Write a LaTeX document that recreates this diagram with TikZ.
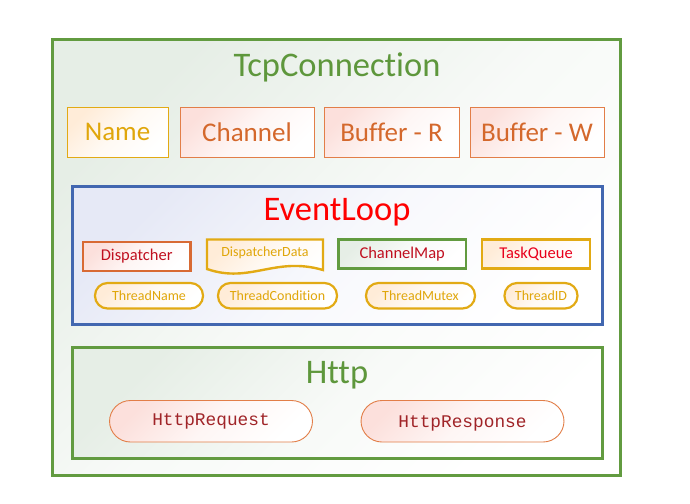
\documentclass[tikz,border=0pt]{standalone}
\usepackage{fontspec}
\setmainfont{Carlito}[Ligatures=NoCommon]
\newfontfamily\monofnt{Liberation Mono}
\definecolor{gOut}{RGB}{98,155,64}
\definecolor{gTitle}{RGB}{94,151,60}
\definecolor{gFill}{RGB}{230,238,230}
\definecolor{bLine}{RGB}{66,103,176}
\definecolor{bFill}{RGB}{230,233,246}
\definecolor{yLine}{RGB}{226,170,20}
\definecolor{yText}{RGB}{224,166,10}
\definecolor{yFill}{RGB}{255,236,216}
\definecolor{oLine}{RGB}{226,126,72}
\definecolor{oText}{RGB}{212,104,44}
\definecolor{pFill}{RGB}{252,224,220}
\definecolor{dLine}{RGB}{216,106,52}
\definecolor{dRed}{RGB}{192,16,32}
\definecolor{tRed}{RGB}{232,0,28}
\definecolor{hRed}{RGB}{160,36,40}
\begin{document}
\begin{tikzpicture}[x=1pt,y=-1pt,
  gfill/.style={top color=#1, bottom color=white, middle color=white!70!#1, shading angle=45},
  frame/.style={line width=3pt},
  topbox/.style={line width=0.9pt, draw=oLine},
  toptext/.style={font=\fontsize{27}{30}\selectfont, text=oText},
  midbox/.style={line width=2.4pt},
  midtext/.style={font=\fontsize{16.5}{19}\selectfont},
  pill/.style={draw=yLine, line width=2.2pt, rounded corners=12.5pt, gfill=yFill},
  pilltext/.style={font=\fontsize{14}{16}\selectfont, text=yText},
  hpill/.style={draw=oLine, line width=0.9pt, rounded corners=21pt, gfill=pFill},
  hpilltext/.style={font=\monofnt\fontsize{17.8}{20}\selectfont, text=hRed},
  title/.style={font=\fontsize{34.5}{38}\selectfont}
]
\useasboundingbox (0,0) rectangle (690,503);
% outer frame
\path[frame, draw=gOut, gfill=gFill] (52,40) rectangle (620.5,475.5);
\node[title, text=gTitle] (tcp) at (337,67) {TcpConnection};
% top row
\path[topbox, draw=yLine, gfill=yFill] (67,107) rectangle (168,157);
\node[toptext, text=yText] (name) at (117.5,132) {Name};
\path[topbox, gfill=pFill] (180,107) rectangle (314,157);
\node[toptext] (chan) at (247,132) {Channel};
\path[topbox, gfill=pFill] (324,107) rectangle (459,157);
\node[toptext] (bufr) at (391.5,132) {Buffer - R};
\path[topbox, gfill=pFill] (470,107) rectangle (604,157);
\node[toptext] (bufw) at (537,132) {Buffer - W};
% EventLoop
\path[frame, draw=bLine, gfill=bFill] (72,186.5) rectangle (602,324.5);
\node[title, text=red] (el) at (337,212) {EventLoop};
\path[midbox, draw=dLine, gfill=pFill] (83,242) rectangle (190.5,271);
\node[midtext, text=dRed] (disp) at (136.7,256.5) {Dispatcher};
\path[midbox, draw=yLine, gfill=yFill] (207,239.5) -- (323,239.5) -- (323,270) .. controls (275,256) and (250,284) .. (207,269) -- cycle;
\node[pilltext] (dd) at (265,253) {DispatcherData};
\path[midbox, draw=gOut, gfill=gFill] (338.5,239.5) rectangle (466,268.5);
\node[midtext, text=dRed] (cm) at (402.2,254) {ChannelMap};
\path[midbox, draw=yLine, gfill=yFill] (482,239.5) rectangle (590,268.5);
\node[midtext, text=tRed] (tq) at (536,254) {TaskQueue};
% pills
\path[pill] (95,283) rectangle (203,308.5);
\node[pilltext] (tn) at (149,296) {ThreadName};
\path[pill] (218,283) rectangle (337,308.5);
\node[pilltext] (tc) at (277.5,296) {ThreadCondition};
\path[pill] (366,283) rectangle (475,308.5);
\node[pilltext] (tm) at (420.5,296) {ThreadMutex};
\path[pill] (504.5,283) rectangle (577.5,308.5);
\node[pilltext] (tid) at (541,296) {ThreadID};
% Http
\path[frame, draw=gOut, gfill=gFill] (72,347) rectangle (602.5,458.5);
\node[title, text=gTitle] (http) at (337,375) {Http};
\path[hpill] (109.5,400.5) rectangle (312.5,442);
\node[hpilltext] (req) at (211,421) {HttpRequest};
\path[hpill] (361,400.5) rectangle (564,442);
\node[hpilltext] (resp) at (462.5,423) {HttpResponse};
\end{tikzpicture}
\end{document}
